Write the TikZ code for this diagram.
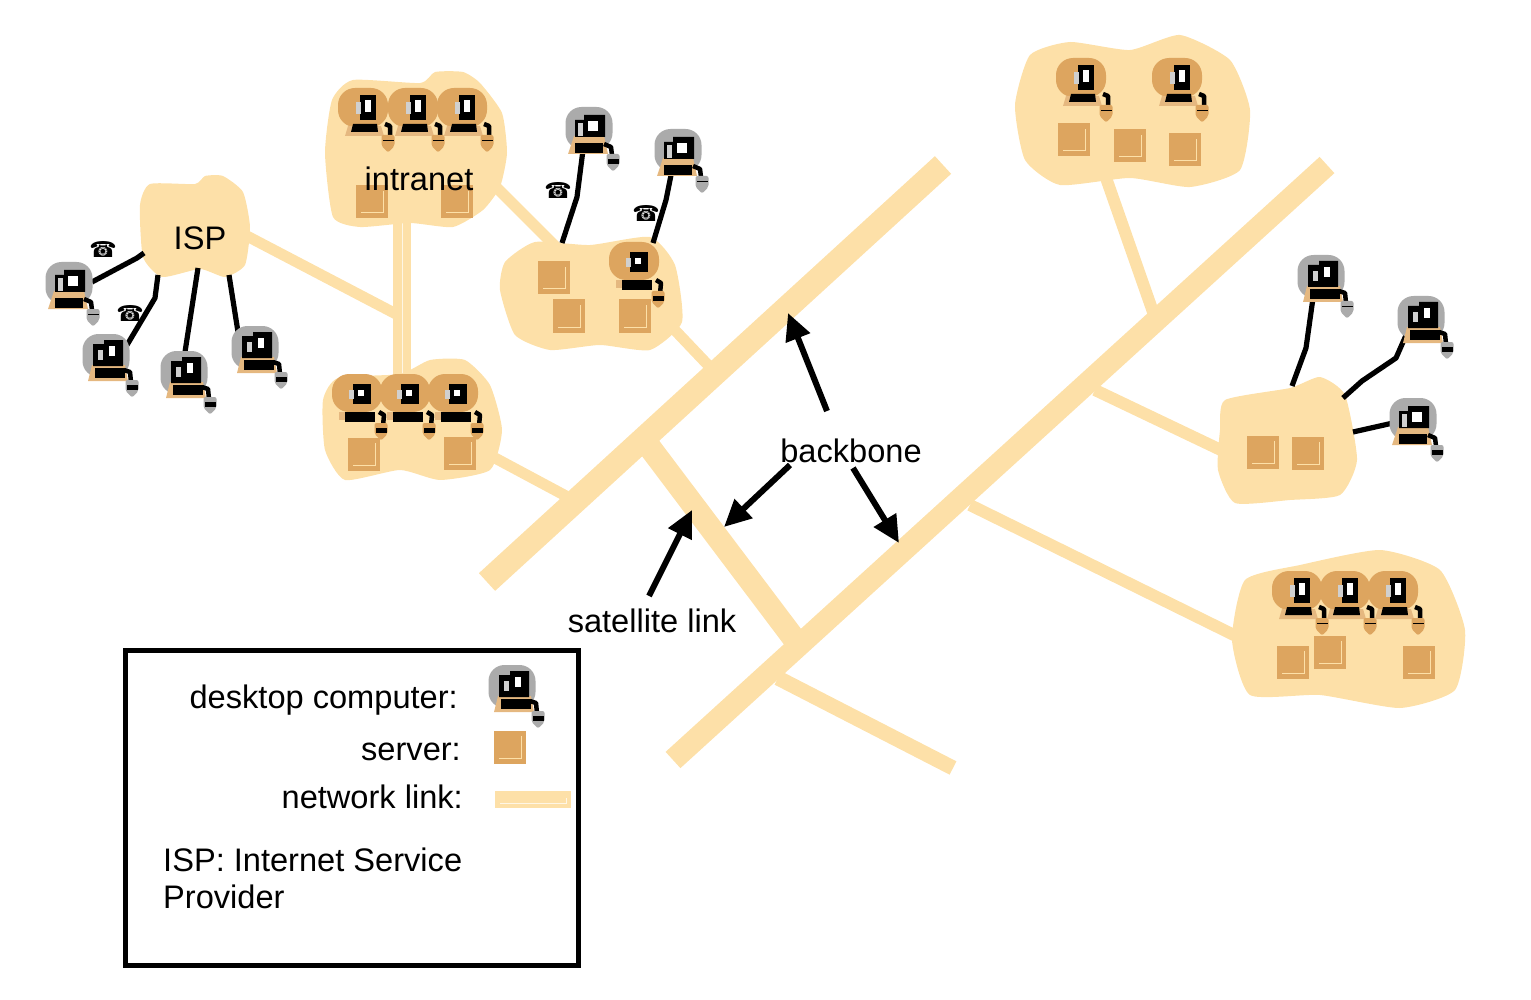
\documentclass[tikz,border=0pt]{standalone}
\usepackage{fontspec}
\setmainfont{Liberation Sans}
\newfontfamily\symfont{DejaVu Sans}
\usetikzlibrary{arrows.meta}
\definecolor{linkcol}{HTML}{FDE0A8}
\definecolor{srvcol}{HTML}{DDA55F}
\definecolor{pcgrey}{HTML}{ABABAB}
\definecolor{pcbase}{HTML}{E5B880}
\definecolor{floppy}{HTML}{D0D0D0}
% mouse at #1, colour #2, height of its dark bar #3
\newcommand{\pcmouse}[3]{
  \begin{scope}[shift={(#1)}]
    \fill[#2,rounded corners=2pt] (-6.5,-8) -- (6.5,-8) -- (6.5,3) -- (0,9.5) -- (-6.5,3) -- cycle;
    \fill[black] (-5.5,-3) rectangle (5.5,-3+#3);
  \end{scope}
}
\tikzset{
  blob/.style={fill=linkcol},
  link/.style={draw=linkcol,line cap=butt},
  cable/.style={draw=black,line width=5.2pt,line join=round},
  pccord/.style={draw=black,line width=4.5pt,line join=round},
  callout/.style={draw=black,line width=6pt,-{Triangle[length=27pt,width=25pt]}},
  label/.style={font=\fontsize{32.6}{37}\selectfont,inner sep=0pt,text=black},
  phone/.style={font=\symfont\fontsize{22}{24}\selectfont,inner sep=0pt},
  pics/server/.style={code={
    \fill[srvcol] (-16,-16.5) rectangle (16,16.5);
    \draw[linkcol,line width=1pt] (-11,11) -- (11,11) -- (11,-11);
  }},
  % grey desktop, tall screen
  pics/pcnarrow/.style={code={
    \fill[pcgrey,rounded corners=16pt] (-23.5,-21) rectangle (23.5,22);
    \fill[pcbase] (-14,10) -- (19,10) -- (22,26) -- (-18,26) -- cycle;
    \fill[black] (-13,-11) -- (-2,-11) -- (-2,-15) -- (17,-15) -- (17,11) -- (-13,11) -- cycle;
    \fill[white] (3,-9) rectangle (9,1);
    \fill[floppy] (-8,-5) rectangle (-3,5);
    \fill[black] (-11,13) rectangle (19,23);
    \draw[pccord] (18,15) -- (24,17) -- (25,27);
    \pcmouse{26,33}{pcgrey}{#1}
  }},
  % grey desktop, wide screen
  pics/pcwide/.style={code={
    \fill[pcgrey,rounded corners=16pt] (-23.5,-20) rectangle (23.5,22);
    \fill[pcbase] (-15,9) -- (15,9) -- (19,27) -- (-21,27) -- cycle;
    \fill[black] (-14,-7) -- (-5,-7) -- (-5,-12) -- (16,-12) -- (16,10) -- (-14,10) -- cycle;
    \fill[white] (-1,-6) rectangle (9,4);
    \fill[floppy] (-11,-4) rectangle (-6,9);
    \fill[black] (-14,16) rectangle (14,26);
    \draw[pccord] (15,17) -- (22,20) -- (23,28);
    \pcmouse{24,35}{pcgrey}{#1}
  }},
  % computer inside a cloud, tall monitor
  pics/lantall/.style={code={
    \fill[srvcol,rounded corners=17pt] (-25,-19) rectangle (25,20);
    \fill[pcbase] (-15,19) -- (18,19) -- (21,29) -- (-18,29) -- cycle;
    \fill[black] (-3,-12) rectangle (13,13);
    \fill[white] (2,-7) rectangle (8,5);
    \fill[floppy] (-7,-5) rectangle (-2,7);
    \fill[black] (-10,17) -- (14,17) -- (15,25) -- (-12,25) -- cycle;
    \draw[pccord] (22,17) -- (27,19) -- (27,29);
    \pcmouse{25,36}{srvcol}{.8}
  }},
  % computer inside a cloud, square monitor
  pics/lansquare/.style={code={
    \fill[srvcol,rounded corners=17pt] (-25,-19) rectangle (25,19);
    \fill[pcbase] (-18,19) rectangle (-8,27);
    \fill[black] (-4,-9) rectangle (14,11);
    \fill[white] (1,-3) rectangle (7,3);
    \fill[floppy] (-8,-3) rectangle (-3,6);
    \fill[black] (-12,19) rectangle (18,29);
    \draw[pccord] (22,19) -- (27,22) -- (26,33);
    \pcmouse{24,38}{srvcol}{5}
  }},
}
\begin{document}
\begin{tikzpicture}[x=1pt,y=-1pt]
  \useasboundingbox (0,0) rectangle (1531,1000);
  % backbone and satellite link
  \coordinate (bbAs) at (487,582);
  \coordinate (bbAe) at (943,165);
  \coordinate (bbBs) at (673,760);
  \coordinate (bbBe) at (1327,165);
  \coordinate (satS) at (648,445);
  \coordinate (satE) at (795,640);
  \draw[link,line width=24pt] (bbAs) -- (bbAe);
  \draw[link,line width=22pt] (bbBs) -- (bbBe);
  \draw[link,line width=23pt] (satS) -- (satE);
  % branches
  \coordinate (brBs) at (778,678);
  \coordinate (brBe) at (953,768);
  \draw[link,line width=15pt] (brBs) -- (brBe);
  \coordinate (brRAs) at (970,505);
  \coordinate (brRAe) at (1240,638);
  \draw[link,line width=12pt] (brRAs) -- (brRAe);
  \coordinate (brRBs) at (1095,390);
  \coordinate (brRBe) at (1225,452);
  \draw[link,line width=12pt] (brRBs) -- (brRBe);
  \coordinate (brRCs) at (1153,312);
  \coordinate (brRCe) at (1105,175);
  \draw[link,line width=12pt] (brRCs) -- (brRCe);
  \coordinate (brLAs) at (495,458);
  \coordinate (brLAe) at (566,496);
  \draw[link,line width=11pt] (brLAs) -- (brLAe);
  \coordinate (brLBs) at (670,325);
  \coordinate (brLBe) at (708,365);
  \draw[link,line width=11pt] (brLBs) -- (brLBe);
  \coordinate (brLCs) at (497,188);
  \coordinate (brLCe) at (556,247);
  \draw[link,line width=11pt] (brLCs) -- (brLCe);
  \coordinate (brLDs) at (245,235);
  \coordinate (brLDe) at (396,314);
  \draw[link,line width=11pt] (brLDs) -- (brLDe);
  \coordinate (lanTop) at (402,220);
  \coordinate (lanBot) at (402,375);
  \draw[link,line width=18pt] (lanTop) -- (lanBot);
  \draw[white!70!linkcol,line width=1pt] (lanTop) -- (lanBot);
  % clouds
  \fill[blob] plot[smooth cycle,tension=.35] coordinates {(150,184) (195,184) (205,176) (223,176) (243,192) (250,227) (245,265) (225,277) (200,269) (162,277) (143,257) (140,205)};
  \fill[blob] plot[smooth cycle,tension=.35] coordinates {(353,80) (420,83) (435,72) (463,72) (480,83) (502,113) (507,153) (500,187) (483,210) (453,227) (410,223) (360,227) (333,217) (325,153) (332,100)};
  \fill[blob] plot[smooth cycle,tension=.35] coordinates {(338,378) (400,374) (430,360) (465,360) (490,385) (502,430) (490,470) (440,480) (400,470) (345,480) (325,450) (323,400)};
  \fill[blob] plot[smooth cycle,tension=.35] coordinates {(505,262) (535,242) (590,245) (650,237) (675,265) (682,322) (650,350) (600,345) (550,350) (515,335) (500,290)};
  \fill[blob] plot[smooth cycle,tension=.35] coordinates {(1030,55) (1070,42) (1130,50) (1180,35) (1230,60) (1250,110) (1240,170) (1190,187) (1130,178) (1060,185) (1025,160) (1015,105)};
  \fill[blob] plot[smooth cycle,tension=.35] coordinates {(1225,400) (1290,388) (1320,377) (1345,395) (1357,460) (1340,495) (1290,500) (1235,503) (1218,470) (1220,430)};
  \fill[blob] plot[smooth cycle,tension=.35] coordinates {(1245,580) (1300,565) (1380,550) (1440,570) (1465,630) (1455,690) (1400,708) (1320,695) (1250,695) (1232,640)};
  % cables to the desktops
  \coordinate (ispA) at (144,253);
  \coordinate (pcA) at (92,282);
  \draw[cable] (ispA) -- (137,258) -- (pcA);
  \coordinate (ispB) at (158,275);
  \coordinate (pcB) at (127,345);
  \draw[cable] (ispB) -- (155,298) -- (pcB);
  \coordinate (ispC) at (198,268);
  \coordinate (pcC) at (185,352);
  \draw[cable] (ispC) -- (pcC);
  \coordinate (ispD) at (229,275);
  \coordinate (pcD) at (238,332);
  \draw[cable] (ispD) -- (pcD);
  \coordinate (midA) at (562,243);
  \coordinate (pcE) at (583,150);
  \draw[cable] (midA) -- (577,197) -- (pcE);
  \coordinate (midB) at (653,243);
  \coordinate (pcF) at (672,170);
  \draw[cable] (midB) -- (666,200) -- (pcF);
  \coordinate (rgtA) at (1292,386);
  \coordinate (pcG) at (1313,298);
  \draw[cable] (rgtA) -- (1306,348) -- (pcG);
  \coordinate (rgtB) at (1343,398);
  \coordinate (pcH) at (1407,333);
  \draw[cable] (rgtB) -- (1362,381) -- (1396,358) -- (pcH);
  \coordinate (rgtC) at (1353,432);
  \coordinate (pcI) at (1393,423);
  \draw[cable] (rgtC) -- (pcI);
  % desktops
  \pic at (69,282) {pcwide=.8};
  \pic at (106,355) {pcnarrow=5};
  \pic at (184,372) {pcnarrow=5};
  \pic at (255,347) {pcnarrow=5};
  \pic at (589,127) {pcwide=5};
  \pic at (678,149) {pcwide=.8};
  \pic at (1321,276) {pcnarrow=.8};
  \pic at (1421,317) {pcnarrow=5};
  \pic at (1413,418) {pcwide=5};
  % computers inside the clouds
  \foreach \px/\py in {363/107,413/107,462/107,1081/77,1177/77,1297/590,1345/590,1393/590}
    \pic at (\px,\py) {lantall};
  \foreach \px/\py in {357/393,405/393,453/393,634/261}
    \pic at (\px,\py) {lansquare};
  % servers
  \foreach \sx/\sy in {372/202,457/202,364/454,460/453,554/278,569/316,635/316,1074/140,1130/146,1185/150,1263/452,1308/453,1293/662,1330/652,1419/662}
    \pic at (\sx,\sy) {server};
  % phones
  \node[phone] (telA) at (103,249) {☎};
  \node[phone] (telB) at (130,313) {☎};
  \node[phone] (telC) at (558,190) {☎};
  \node[phone] (telD) at (646,213) {☎};
  % labels
  \node[label] (isp) at (200,238) {ISP};
  \node[label] (intranet) at (419,179) {intranet};
  \node[label] (backbone) at (851,451) {backbone};
  \node[label] (satellite) at (652,621) {satellite link};
  % callouts
  \coordinate (bbUp) at (827,411);
  \coordinate (bbUpTip) at (788,313);
  \coordinate (bbLeft) at (790,465);
  \coordinate (bbLeftTip) at (724,527);
  \coordinate (bbRight) at (853,468);
  \coordinate (bbRightTip) at (899,543);
  \coordinate (satFrom) at (649,596);
  \coordinate (satTip) at (692,510);
  \draw[callout] (bbUp) -- (bbUpTip);
  \draw[callout] (bbLeft) -- (bbLeftTip);
  \draw[callout] (bbRight) -- (bbRightTip);
  \draw[callout] (satFrom) -- (satTip);
  % legend
  \draw[black,line width=5pt] (125,650) rectangle (578,965);
  \node[label,anchor=east] (lgPc) at (458,700) {desktop computer:};
  \node[label,anchor=east] (lgSrv) at (461,752) {server:};
  \node[label,anchor=east] (lgLink) at (463,797) {network link:};
  \node[label,anchor=west,align=left] (lgIsp) at (163,878) {ISP: Internet Service\\Provider};
  \pic at (512,686) {pcnarrow=5};
  \pic at (510,747) {server};
  \coordinate (lgA) at (495,799);
  \coordinate (lgB) at (571,799);
  \draw[link,line width=17pt] (lgA) -- (lgB);
  \draw[white!70!linkcol,line width=1pt] (500,803) -- (566,803) -- (566,798);
\end{tikzpicture}
\end{document}
